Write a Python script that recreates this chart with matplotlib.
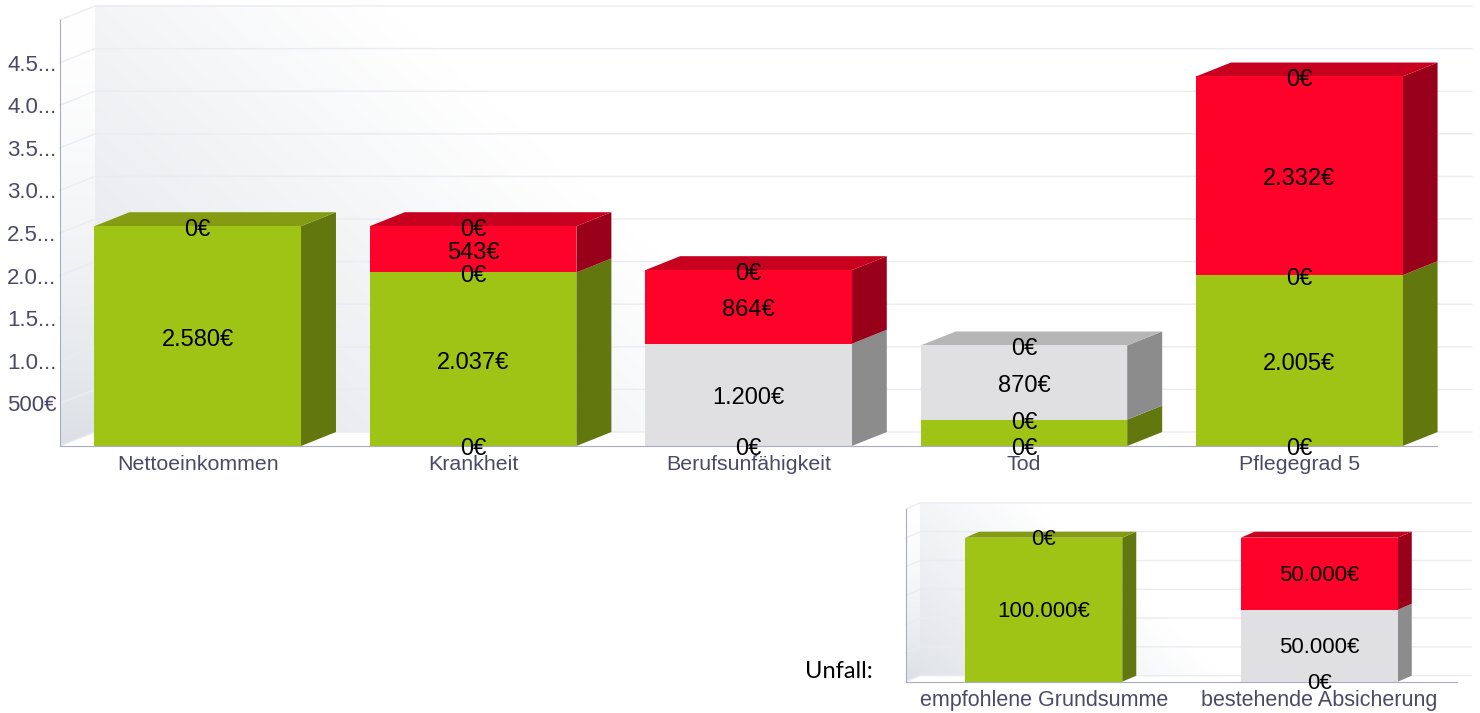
import numpy as np
from matplotlib import pyplot as plt
from matplotlib.patches import Polygon

plt.rcParams['font.family'] = ['Liberation Sans', 'DejaVu Sans']

# main chart
categories = ['Nettoeinkommen', 'Krankheit', 'Berufsunfähigkeit', 'Tod', 'Pflegegrad 5']
green = [2580, 2037, 0, 310, 2005]
gray = [0, 0, 1200, 870, 0]
red = [0, 543, 864, 0, 2332]
green_labels = ['2.580€', '2.037€', '', '', '2.005€']
gray_labels = ['', '', '1.200€', '870€', '']
red_labels = ['', '543€', '864€', '', '2.332€']
# where the "0€" labels sit: 0 = base, 1 = top of green, 2 = top of gray, 3 = top of stack
zero_labels = [[3], [0, 1, 3], [0, 3], [0, 1, 3], [0, 1, 3]]
yticks = [0, 500, 1000, 1500, 2000, 2500, 3000, 3500, 4000, 4500, 5000]
ytick_labels = ['', '500€', '1.0...', '1.5...', '2.0...', '2.5...', '3.0...', '3.5...', '4.0...', '4.5...', '']

# accident chart
categories2 = ['empfohlene Grundsumme', 'bestehende Absicherung']
green2 = [100000, 0]
gray2 = [0, 50000]
red2 = [0, 50000]
green_labels2 = ['100.000€', '']
gray_labels2 = ['', '50.000€']
red_labels2 = ['', '50.000€']
zero_labels2 = [[3], [0]]
yticks2 = [0, 20000, 40000, 60000, 80000, 100000, 120000]

GREEN = ('#a0c415', '#62780f', '#859c12')
GRAY = ('#e0e0e2', '#8c8c8c', '#b6b6b6')
RED = ('#ff0229', '#990019', '#c8001f')
GRID = '#ebebf2'
AXIS = '#a9abc6'
TEXT = '#4a4a68'


def draw_walls(ax, ymax, dx, dy, n):
    xl, xr = -0.5, n - 0.5
    # back wall, diagonal fade towards the upper right
    u, v = np.meshgrid(np.linspace(0, 1, 300), np.linspace(0, 1, 200))
    fade = np.clip(1 - u / 0.55 - v / 1.6, 0, 1)
    img = np.ones((200, 300, 3))
    for c, d in enumerate((30, 27, 22)):
        img[:, :, c] -= fade * d / 255
    ax.imshow(img, extent=(xl + dx, xr + dx, dy, ymax + dy), origin='lower',
              aspect='auto', zorder=0, clip_on=False)
    # left wall
    v = np.linspace(0, 1, 200).reshape(-1, 1)
    img = np.ones((200, 1, 3))
    for c, d in enumerate((35, 31, 25)):
        img[:, :, c] -= (1 - v) ** 1.6 * d / 255
    wall = Polygon([(xl, 0), (xl + dx, dy), (xl + dx, ymax + dy), (xl, ymax)],
                   closed=True, fill=False, edgecolor='none', clip_on=False)
    ax.add_patch(wall)
    im = ax.imshow(img, extent=(xl, xl + dx, 0, ymax + dy), origin='lower',
                   aspect='auto', zorder=0)
    im.set_clip_box(ax.figure.bbox)
    im.set_clip_path(wall)


def put_label(ax, x, y, s, size, shift):
    ax.annotate(s, (x, y), xytext=(0, shift), textcoords='offset points', ha='center',
                va='center', fontsize=size, color='black', zorder=6, annotation_clip=False)


def draw_chart(ax, cats, stacks, colors, labels, zeros, ticks, width, dx, dy, size, shift):
    n = len(cats)
    xl, xr = -0.5, n - 0.5
    ymax = ticks[-1]
    draw_walls(ax, ymax, dx, dy, n)
    for t in ticks:
        ax.plot([xl, xl + dx, xr + dx], [t, t + dy, t + dy], color=GRID, lw=1,
                zorder=1, clip_on=False)
    bottoms = np.zeros(n)
    tops = np.sum(stacks, axis=0)
    boundaries = [bottoms.copy()]
    for vals, col, labs in zip(stacks, colors, labels):
        vals = np.array(vals, dtype=float)
        for i in range(n):
            if vals[i] == 0:
                continue
            x1 = i + width / 2
            b, t = bottoms[i], bottoms[i] + vals[i]
            ax.fill([x1, x1 + dx, x1 + dx, x1], [b, b + dy, t + dy, t], color=col[1],
                    lw=0, zorder=3, clip_on=False)
            if t == tops[i]:
                x0 = i - width / 2
                ax.fill([x0, x1, x1 + dx, x0 + dx], [t, t, t + dy, t + dy], color=col[2],
                        lw=0, zorder=3, clip_on=False)
            if labs[i]:
                put_label(ax, i, b + vals[i] / 2, labs[i], size, shift)
        ax.bar(range(n), vals, width, bottom=bottoms, color=col[0], lw=0, zorder=4)
        bottoms = bottoms + vals
        boundaries.append(bottoms.copy())
    for i, where in enumerate(zeros):
        for w in where:
            put_label(ax, i, boundaries[w][i], '0€', size, shift)
    ax.set_xlim(xl, xr)
    ax.set_ylim(0, ymax)
    ax.set_xticks(range(n))
    ax.set_xticklabels(cats, color=TEXT)
    for s in ('top', 'right'):
        ax.spines[s].set_visible(False)
    for s in ('left', 'bottom'):
        ax.spines[s].set_color(AXIS)
        ax.spines[s].set_zorder(5)


fig = plt.figure(figsize=(14.8, 7.13), dpi=100)

ax = fig.add_axes([60 / 1480, (713 - 446) / 713, 1377 / 1480, 426 / 713])
draw_chart(ax, categories, [green, gray, red], [GREEN, GRAY, RED],
           [green_labels, gray_labels, red_labels], zero_labels, yticks,
           0.75, 35 / 275.4, 164, 17, -2.5)
ax.set_yticks(yticks)
ax.set_yticklabels(ytick_labels, color=TEXT, fontsize=16)
ax.tick_params(axis='y', length=0, pad=2.5)
ax.tick_params(axis='x', length=0, pad=6.5, labelsize=15.4)

ax2 = fig.add_axes([906 / 1480, (713 - 681.7) / 713, 551 / 1480, 172.8 / 713])
draw_chart(ax2, categories2, [green2, gray2, red2], [GREEN, GRAY, RED],
           [green_labels2, gray_labels2, red_labels2], zero_labels2, yticks2,
           0.57, 14 / 275.5, 4170, 16, -1.2)
ax2.set_yticks([])
ax2.tick_params(axis='x', length=0, pad=6, labelsize=15.5)

fig.text(805 / 1480, (713 - 672) / 713, 'Unfall:', family='Lato', fontsize=17,
         color='black', ha='left', va='center')

plt.savefig('out.png', dpi=100)
